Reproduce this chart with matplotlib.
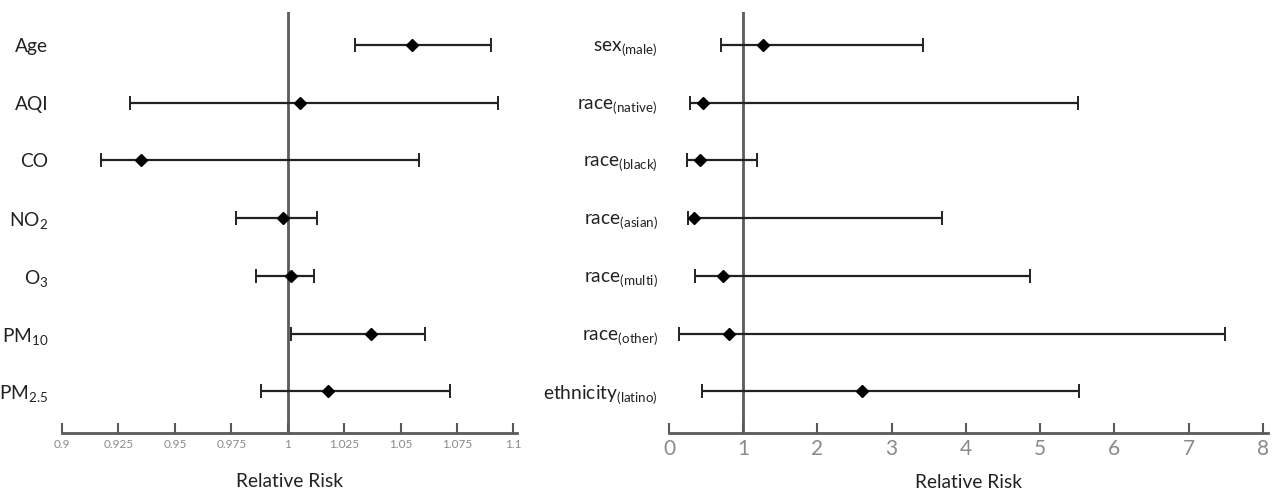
import matplotlib
matplotlib.use("Agg")
import matplotlib.pyplot as plt

plt.rcParams['font.family'] = ['Lato', 'DejaVu Sans']
plt.rcParams['mathtext.fontset'] = 'custom'
plt.rcParams['mathtext.rm'] = 'Lato'
plt.rcParams['mathtext.it'] = 'Lato:italic'
plt.rcParams['mathtext.bf'] = 'Lato:bold'

# Environmental exposures
env_labels = ["Age", "AQI", "CO", r"NO$_\mathrm{2}$", r"O$_\mathrm{3}$",
              r"PM$_\mathrm{10}$", r"PM$_\mathrm{2.5}$"]
env_rr = [1.055, 1.0055, 0.935, 0.998, 1.0015, 1.037, 1.018]
env_lo = [1.030, 0.930, 0.9175, 0.977, 0.986, 1.0015, 0.988]
env_hi = [1.090, 1.093, 1.058, 1.013, 1.0115, 1.061, 1.072]
env_ticks = [0.9, 0.925, 0.95, 0.975, 1, 1.025, 1.05, 1.075, 1.1]
env_ticklabels = ["0.9", "0.925", "0.95", "0.975", "1", "1.025", "1.05", "1.075", "1.1"]

# Demographic factors
demo_labels = [r"sex$_\mathrm{(male)}$", r"race$_\mathrm{(native)}$", r"race$_\mathrm{(black)}$",
               r"race$_\mathrm{(asian)}$", r"race$_\mathrm{(multi)}$", r"race$_\mathrm{(other)}$",
               r"ethnicity$_\mathrm{(latino)}$"]
demo_rr = [1.26, 0.455, 0.416, 0.34, 0.734, 0.805, 2.60]
demo_lo = [0.70, 0.285, 0.247, 0.25, 0.345, 0.13, 0.44]
demo_hi = [3.42, 5.51, 1.18, 3.68, 4.86, 7.49, 5.52]
demo_ticks = [0, 1, 2, 3, 4, 5, 6, 7, 8]

W, H = 1280, 495
fig = plt.figure(figsize=(W / 100, H / 100), dpi=100)

axis_col = "#5a5a5a"
tick_col = "#8a8a8a"


def forest(ax, labels, rr, lo, hi, xlim, ticks, ticklabels, tick_size, label_pad, xlabel_pad):
    ys = list(range(len(labels)))
    xerr = [[r - l for r, l in zip(rr, lo)], [h - r for r, h in zip(rr, hi)]]
    ax.axvline(1, color=axis_col, lw=2.0, zorder=1)
    ax.errorbar(rr, ys, xerr=xerr, fmt='D', color='black', ms=6.5, ecolor='#222222',
                elinewidth=1.6, capsize=5, capthick=1.4, zorder=3)
    ax.set_xlim(*xlim)
    ax.set_ylim(6.72, -0.57)
    ax.set_yticks(ys)
    ax.set_yticklabels(labels, fontsize=13.8, color='#222222')
    ax.tick_params(axis='y', length=0, pad=label_pad)
    ax.set_xticks(ticks)
    ax.set_xticklabels(ticklabels, fontsize=tick_size, color=tick_col)
    ax.tick_params(axis='x', direction='in', length=7, width=1.5, color=axis_col, pad=4)
    for s in ['top', 'right', 'left']:
        ax.spines[s].set_visible(False)
    ax.spines['bottom'].set_color(axis_col)
    ax.spines['bottom'].set_linewidth(2.0)
    ax.set_xlabel("Relative Risk", fontsize=13.8, color='#222222', labelpad=xlabel_pad)


bottom = 1 - 433 / H
top = 1 - 12 / H
ax1 = fig.add_axes([62 / W, bottom, (517 - 62) / W, top - bottom])
forest(ax1, env_labels, env_rr, env_lo, env_hi, (0.9, 1.1016),
       env_ticks, env_ticklabels, 8.5, 10, 17)

ax2 = fig.add_axes([669 / W, bottom, (1268 - 669) / W, top - bottom])
forest(ax2, demo_labels, demo_rr, demo_lo, demo_hi, (0, 8.07),
       demo_ticks, [str(t) for t in demo_ticks], 15, 8, 11)

fig.savefig("out.png", dpi=100)
